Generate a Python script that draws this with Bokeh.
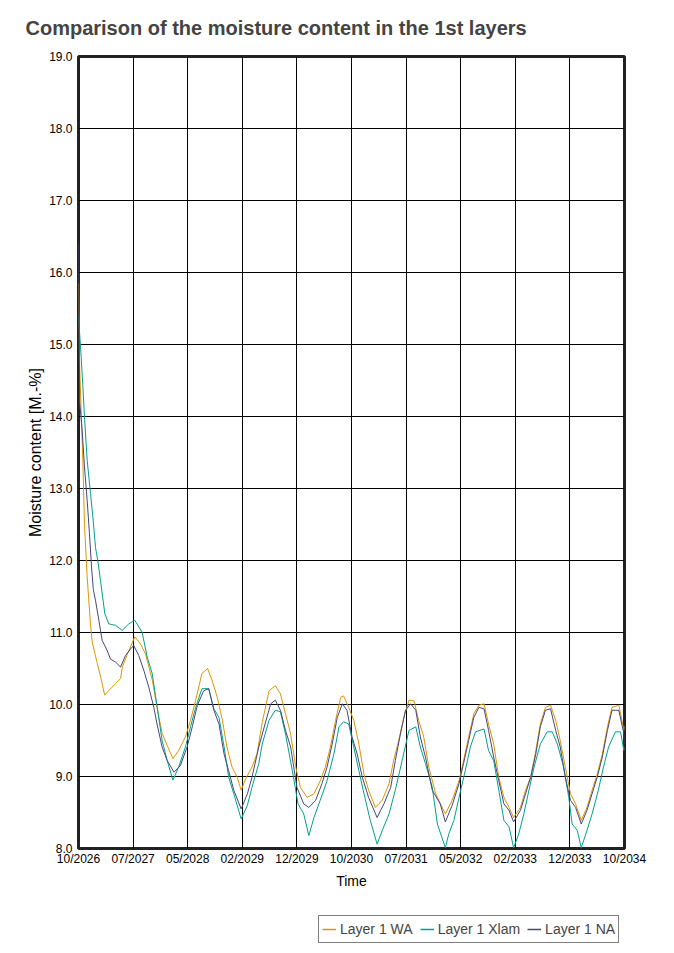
from bokeh.plotting import figure
from bokeh.layouts import column
from bokeh.models import FixedTicker, Legend, LegendItem, Title
from bokeh.embed import file_html
from bokeh.resources import INLINE

# ---- data (time in months from 10/2026, moisture content in M.-%) ----
tick_labels = ["10/2026", "07/2027", "05/2028", "02/2029", "12/2029", "10/2030",
               "07/2031", "05/2032", "02/2033", "12/2033", "10/2034"]
series_names = ["Layer 1 WA", "Layer 1 Xlam", "Layer 1 NA"]

wa_months = [0, 0.2, 0.5, 0.76, 1.05, 1.5, 2.1, 2.4, 3.3, 3.9, 4.6, 5.3, 6.5, 7.4, 7.7, 8.6, 9.9,
             10.9, 11.8, 13.0, 13.8, 14.7, 15.6, 16.6, 17.6, 18.8, 19.7, 20.6, 21.7, 22.7, 23.5,
             24.4, 25.3, 26.1, 27.0, 27.9, 28.6, 29.4, 30.5, 31.4, 32.3, 33.5, 34.6, 35.5, 36.4,
             37.3, 38.2, 39.0, 40.2, 41.4, 42.5, 43.4, 44.3, 45.2, 46.1, 46.6, 47.5, 48.4, 49.3,
             50.2, 51.0, 52.2, 53.4, 54.6, 55.4, 56.3, 57.2, 58.1, 59.0, 59.8, 60.7, 61.6, 62.8,
             64.5, 65.7, 66.9, 67.7, 68.6, 69.5, 70.4, 71.3, 72.1, 73.0, 73.9, 74.8, 75.7, 76.5,
             77.7, 78.6, 79.5, 80.4, 81.2, 82.1, 83.0, 83.9, 84.7, 85.6, 86.5, 87.4, 88.4, 89.4,
             90.3, 91.2, 92.1, 93.0, 93.8, 95.0, 95.9, 96.0]
wa_values = [15.85, 14.7, 14.0, 13.4, 12.5, 11.8, 11.12, 10.87, 10.57, 10.38, 10.13, 10.19, 10.29,
             10.36, 10.52, 10.70, 10.94, 10.84, 10.70, 10.33, 9.96, 9.60, 9.43, 9.25, 9.36, 9.55,
             9.78, 10.06, 10.43, 10.50, 10.33, 10.10, 9.78, 9.41, 9.13, 8.99, 8.81, 8.97, 9.13,
             9.32, 9.75, 10.19, 10.26, 10.15, 9.87, 9.59, 9.13, 8.85, 8.71, 8.76, 8.94, 9.13, 9.41,
             9.78, 10.10, 10.12, 9.96, 9.78, 9.45, 9.03, 8.81, 8.57, 8.67, 8.90, 9.22, 9.50, 9.82,
             10.06, 10.05, 9.78, 9.55, 9.13, 8.76, 8.48, 8.67, 8.94, 9.22, 9.55, 9.87, 9.99, 10.01,
             9.73, 9.45, 8.99, 8.71, 8.57, 8.43, 8.57, 8.81, 8.99, 9.36, 9.73, 9.96, 9.99, 9.78,
             9.50, 9.13, 8.76, 8.62, 8.39, 8.57, 8.81, 9.03, 9.31, 9.69, 9.96, 9.99, 9.64, 9.70]

xlam_months = [0, 0.47, 0.76, 1.05, 1.53, 2.11, 2.58, 2.99, 3.39, 3.87, 4.63, 5.33, 6.5, 7.68,
               8.85, 9.9, 11.2, 12.07, 12.96, 13.84, 14.7, 15.6, 16.6, 17.6, 18.8, 19.7, 20.6,
               21.7, 22.9, 23.8, 24.7, 25.6, 26.4, 27.3, 28.6, 29.7, 30.5, 31.7, 32.3, 33.5, 34.6,
               35.5, 36.4, 37.6, 38.6, 39.6, 40.5, 41.4, 42.5, 43.7, 44.9, 45.8, 46.6, 47.5, 48.4,
               49.3, 50.2, 51.3, 52.5, 53.4, 54.6, 55.7, 56.9, 58.1, 59.3, 60.1, 61.0, 62.2, 63.1,
               64.5, 65.1, 66.0, 67.2, 68.0, 68.9, 69.8, 71.3, 72.1, 73.0, 73.9, 74.8, 75.7, 76.5,
               77.4, 78.3, 79.2, 80.1, 81.2, 82.4, 83.3, 84.2, 85.3, 86.2, 86.8, 87.7, 88.4, 89.4,
               90.3, 91.4, 92.3, 93.2, 94.4, 95.3, 95.9, 96.0]
xlam_values = [15.4, 14.82, 14.43, 13.99, 13.39, 12.93, 12.56, 12.18, 12.0, 11.72, 11.26, 11.12,
               11.10, 11.03, 11.12, 11.17, 11.0, 10.66, 10.43, 9.96, 9.5, 9.22, 8.95, 9.13, 9.41,
               9.69, 9.96, 10.22, 10.22, 9.94, 9.82, 9.41, 8.99, 8.76, 8.41, 8.60, 8.85, 9.18, 9.45,
               9.78, 9.92, 9.90, 9.59, 9.08, 8.62, 8.48, 8.18, 8.43, 8.67, 8.94, 9.31, 9.69, 9.76,
               9.73, 9.41, 9.08, 8.76, 8.39, 8.06, 8.25, 8.48, 8.81, 9.22, 9.64, 9.69, 9.41, 9.18,
               8.85, 8.34, 8.01, 8.20, 8.39, 8.81, 9.08, 9.41, 9.62, 9.66, 9.36, 9.22, 8.81, 8.39,
               8.30, 8.01, 8.20, 8.48, 8.81, 9.13, 9.45, 9.62, 9.62, 9.45, 9.13, 8.71, 8.34, 8.25,
               8.01, 8.25, 8.48, 8.81, 9.13, 9.41, 9.62, 9.62, 9.36, 9.40]

na_months = [0, 0.2, 0.65, 1.05, 1.53, 1.93, 2.29, 2.6, 3.0, 3.58, 4.16, 5.04, 5.63, 6.5, 7.4,
             8.26, 9.14, 9.7, 10.6, 11.5, 12.36, 13.24, 13.8, 14.7, 15.6, 16.8, 17.9, 19.1, 20.0,
             20.9, 22.0, 22.9, 23.8, 24.7, 25.6, 26.4, 27.3, 28.6, 29.7, 30.5, 31.7, 32.8, 33.8,
             34.6, 35.5, 36.4, 37.3, 38.4, 39.6, 40.5, 41.7, 42.8, 43.7, 44.6, 45.5, 46.4, 47.2,
             48.1, 49.0, 49.9, 51.0, 52.5, 53.7, 54.9, 55.7, 56.6, 57.5, 58.4, 59.3, 60.1, 61.0,
             62.2, 63.6, 64.5, 65.7, 66.9, 67.7, 68.6, 69.5, 70.4, 71.3, 72.1, 73.0, 73.9, 74.8,
             75.7, 76.5, 77.7, 78.6, 79.5, 80.4, 81.2, 82.1, 83.0, 83.9, 84.7, 85.6, 86.5, 87.4,
             88.4, 89.4, 90.3, 91.2, 92.1, 93.0, 93.8, 95.0, 95.9, 96.0]
na_values = [16.4, 14.2, 13.8, 13.3, 12.83, 12.37, 11.91, 11.6, 11.44, 11.17, 10.89, 10.75, 10.63,
             10.59, 10.52, 10.68, 10.77, 10.82, 10.68, 10.47, 10.24, 9.96, 9.73, 9.41, 9.22, 9.06,
             9.15, 9.41, 9.69, 9.99, 10.19, 10.22, 9.92, 9.73, 9.31, 9.08, 8.81, 8.55, 8.76, 8.99,
             9.41, 9.73, 10.01, 10.06, 9.92, 9.64, 9.41, 8.85, 8.62, 8.57, 8.67, 8.90, 9.13, 9.45,
             9.82, 10.01, 9.92, 9.55, 9.31, 8.99, 8.71, 8.43, 8.62, 8.85, 9.22, 9.59, 9.92, 10.01,
             9.92, 9.55, 9.27, 8.81, 8.62, 8.37, 8.60, 8.90, 9.18, 9.50, 9.82, 9.96, 9.94, 9.64,
             9.27, 8.94, 8.62, 8.53, 8.37, 8.53, 8.76, 8.99, 9.31, 9.69, 9.92, 9.94, 9.64, 9.41,
             8.99, 8.67, 8.57, 8.34, 8.53, 8.76, 8.99, 9.27, 9.64, 9.92, 9.92, 9.59, 9.45]

FONT = "Liberation Sans"
colors = ["#dc9600", "#00a08c", "#464682"]

p = figure(frame_width=546, frame_height=792, output_backend="svg", toolbar_location=None,
           x_range=(0, 96), y_range=(8, 19),
           min_border_left=78, min_border_right=50, min_border_top=56, min_border_bottom=48)
p.title = None
p.add_layout(Title(text="Comparison of the moisture content in the 1st layers",
                   text_font=FONT, text_font_size="20px", text_font_style="bold",
                   align="left", vertical_align="top", offset=-53, standoff=32), "above")

tick_pos = [round(i * 9.6, 1) for i in range(len(tick_labels))]
p.xaxis.ticker = FixedTicker(ticks=tick_pos)
p.xaxis.major_label_overrides = {t: lab for t, lab in zip(tick_pos, tick_labels)}
p.yaxis.ticker = FixedTicker(ticks=list(range(8, 20)))
p.yaxis.major_label_overrides = {v: f"{v:.1f}" for v in range(8, 20)}

for ax in (p.xaxis, p.yaxis):
    ax.axis_line_color = None
    ax.major_tick_line_color = None
    ax.minor_tick_line_color = None
    ax.major_tick_out = 0
    ax.major_tick_in = 0
    ax.minor_tick_out = 0
    ax.minor_tick_in = 0
    ax.major_label_text_font = FONT
    ax.major_label_text_font_size = "12px"
    ax.major_label_text_color = "black"
    ax.axis_label_text_font = FONT
    ax.axis_label_text_font_style = "normal"
    ax.axis_label_text_color = "black"
p.xaxis.axis_label = "Time"
p.xaxis.axis_label_text_font_size = "14px"
p.xaxis.major_label_standoff = 3
p.xaxis.axis_label_standoff = 4
p.yaxis.axis_label = "Moisture content [M.-%]"
p.yaxis.axis_label_text_font_size = "16px"
p.yaxis.major_label_standoff = 6
p.yaxis.axis_label_standoff = 2

p.grid.grid_line_color = "black"
p.grid.grid_line_alpha = 1.0
p.grid.grid_line_width = 1
p.outline_line_color = "#222222"
p.outline_line_width = 3

r_wa = p.line(wa_months, wa_values, line_color=colors[0], line_width=1)
r_xl = p.line(xlam_months, xlam_values, line_color=colors[1], line_width=1)
r_na = p.line(na_months, na_values, line_color=colors[2], line_width=1)

# legend panel below the chart; its ranges keep the series themselves out of view
lg = figure(width=674, height=55, output_backend="svg", toolbar_location=None,
            x_range=(0, 96), y_range=(0, 1), x_axis_location=None, y_axis_location=None,
            min_border=0, min_border_left=78, min_border_right=0)
lg.outline_line_color = None
lg.grid.visible = False
l_wa = lg.line(wa_months, wa_values, line_color=colors[0], line_width=1.5)
l_xl = lg.line(xlam_months, xlam_values, line_color=colors[1], line_width=1.5)
l_na = lg.line(na_months, na_values, line_color=colors[2], line_width=1.5)
legend = Legend(items=[LegendItem(label=series_names[0], renderers=[l_wa]),
                       LegendItem(label=series_names[1], renderers=[l_xl]),
                       LegendItem(label=series_names[2], renderers=[l_na])],
                orientation="horizontal", location=(240, 8),
                label_text_font=FONT, label_text_font_size="14px",
                glyph_width=14, glyph_height=20, label_height=20, label_width=10,
                label_standoff=4, spacing=7, padding=3, margin=0,
                border_line_color="black", border_line_width=1,
                background_fill_alpha=1.0)
lg.add_layout(legend, "center")

layout = column(p, lg, spacing=0)
open("out.html", "w").write(file_html(layout, INLINE))
